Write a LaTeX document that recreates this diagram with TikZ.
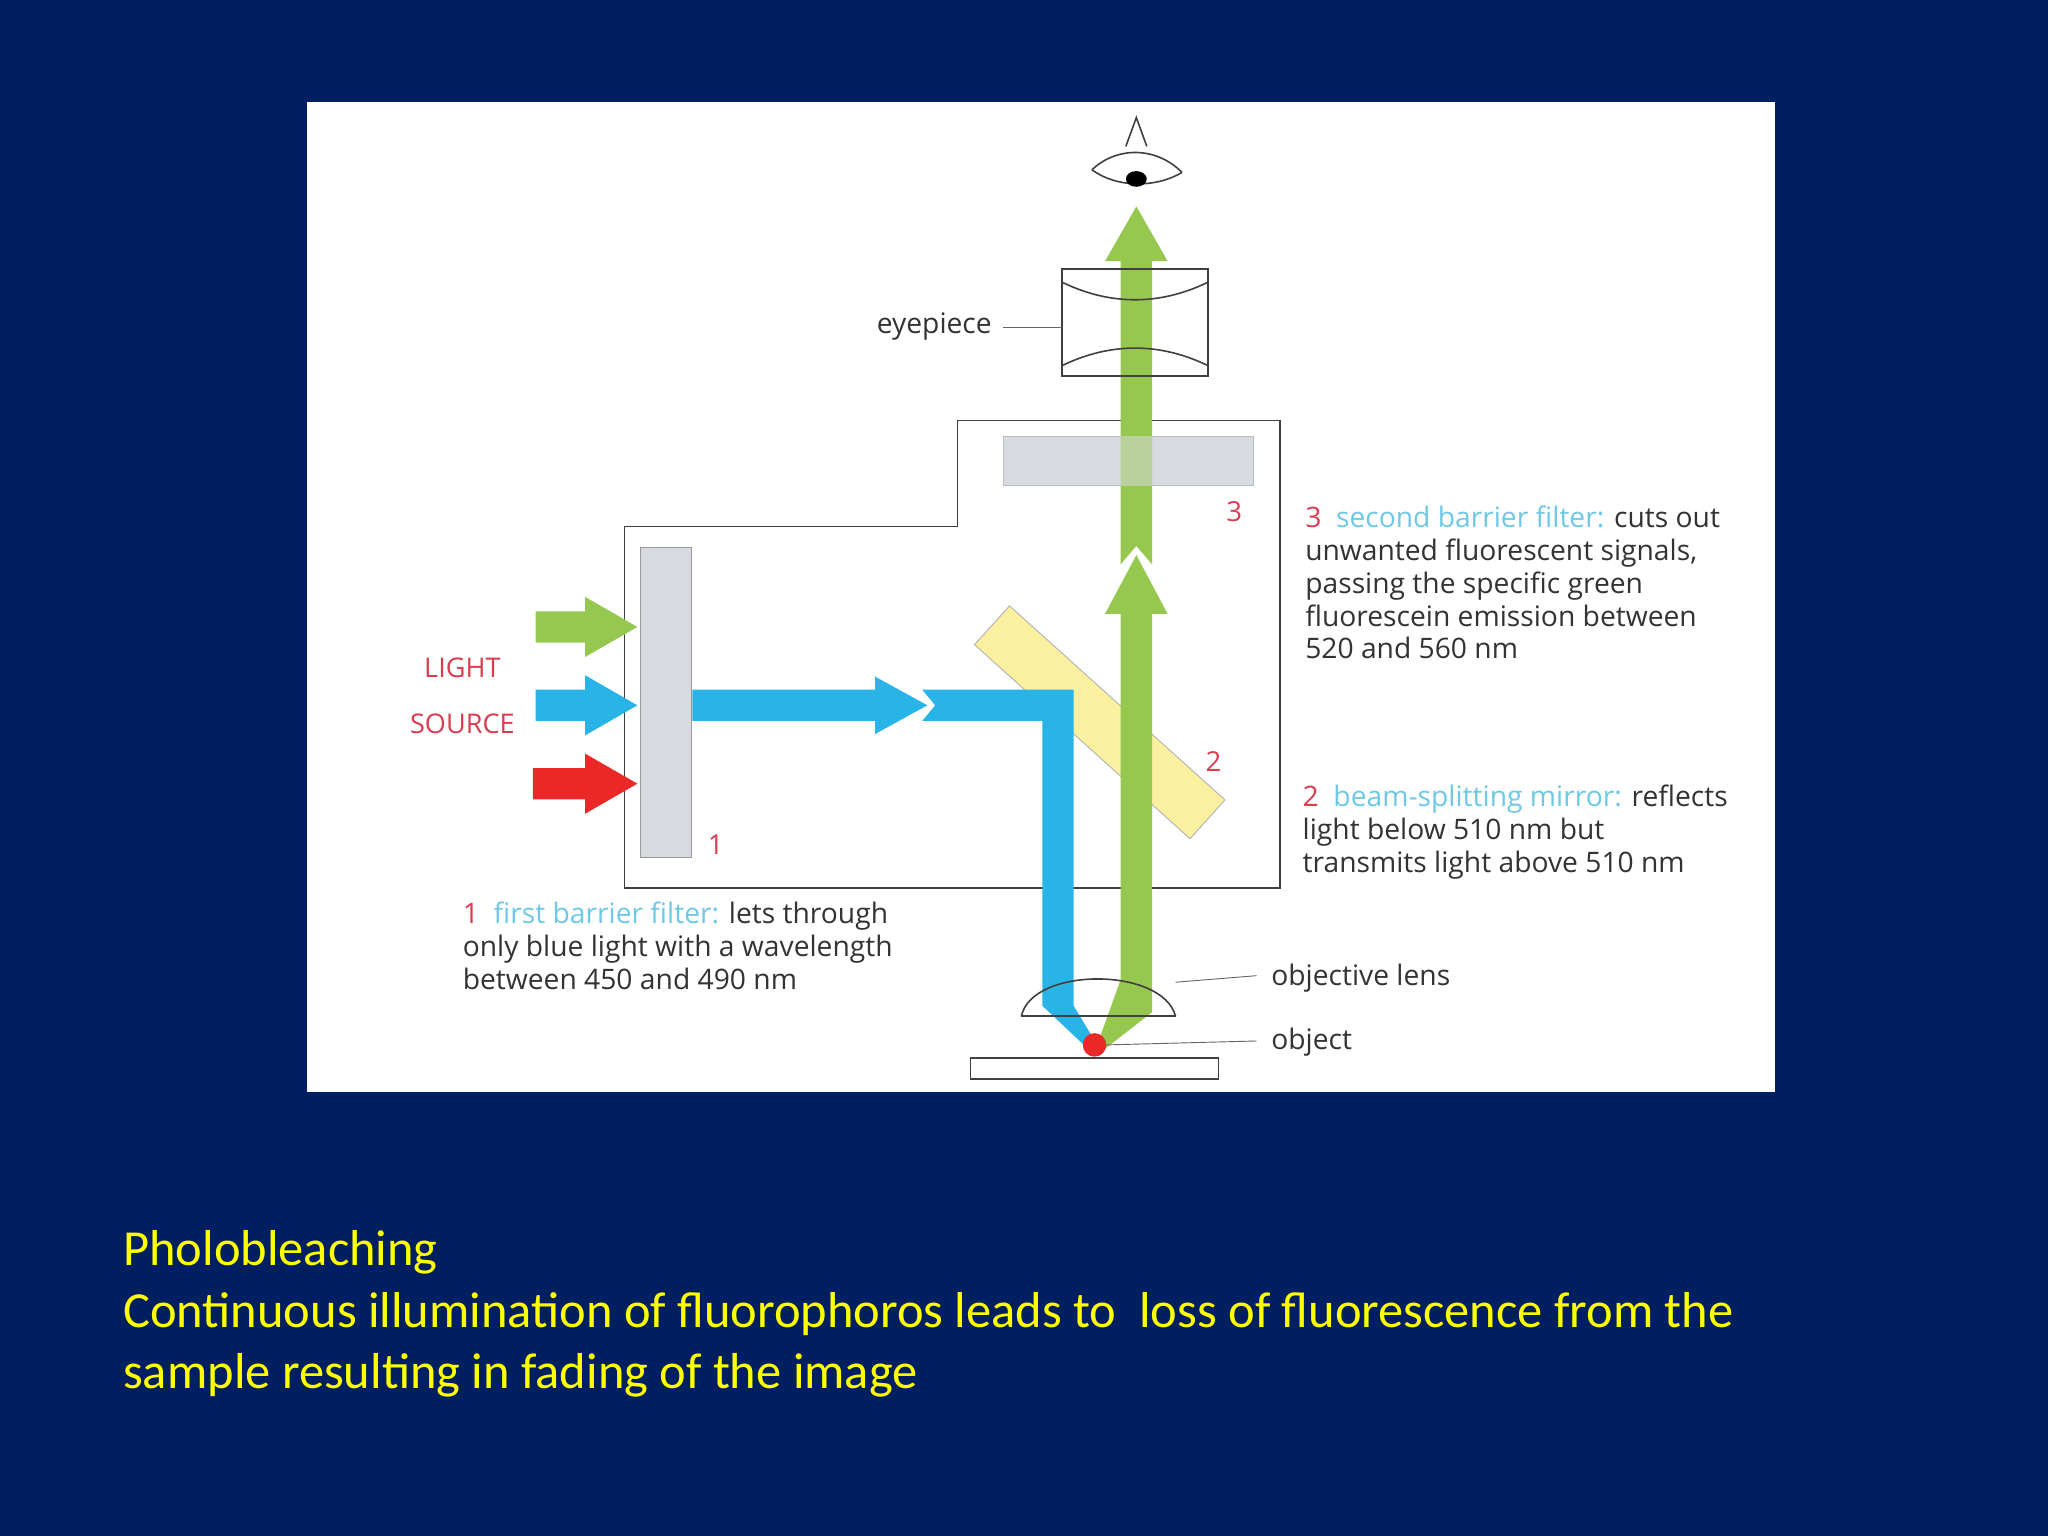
\documentclass[tikz,border=0pt]{standalone}
\usepackage{fontspec}
\setmainfont{Open Sans}
\newfontfamily\calfont{Carlito}
\definecolor{navy}{RGB}{0,31,96}
\definecolor{gbeam}{RGB}{150,200,80}
\definecolor{bbeam}{RGB}{40,180,230}
\definecolor{rbeam}{RGB}{235,40,40}
\definecolor{filt}{RGB}{215,218,222}
\definecolor{mir}{RGB}{250,240,160}
\definecolor{lab}{RGB}{220,60,80}
\definecolor{lblue}{RGB}{110,200,230}
\definecolor{ytext}{RGB}{255,255,0}
\tikzset{lbl/.style={font=\fontsize{12.3}{14.3}\selectfont,text=black!80,align=left,anchor=west,inner sep=0},
 num/.style={font=\fontsize{12}{14}\selectfont,text=lab,inner sep=0},
 fbox/.style={fill=filt,draw=black!40,line width=0.4pt},
 outl/.style={draw=black!75,line width=0.7pt}}
\begin{document}
\begin{tikzpicture}[x=0.02cm,y=-0.02cm]
\fill[navy] (0,0) rectangle (1568,1176);
\fill[white] (235,78) rectangle (1359,836);
% housing
\draw[outl] (733,403) -- (733,322) -- (980,322) -- (980,680) -- (478,680) -- (478,403) -- cycle;
\node[fbox,minimum width=192*0.02cm,minimum height=38*0.02cm,inner sep=0] (f2) at (864,353) {};
\node[fbox,minimum width=39*0.02cm,minimum height=237*0.02cm,inner sep=0] (f1) at (510,538) {};
% mirror
\node[fill=mir,draw=black!30,minimum width=222*0.02cm,minimum height=40*0.02cm,rotate=-42,inner sep=0] (mirror) at (842,553) {};
% incoming arrows
\fill[gbeam] (410,468) -- (448,468) -- (448,457) -- (488,480) -- (448,503) -- (448,492) -- (410,492) -- cycle;
\fill[bbeam] (410,528) -- (448,528) -- (448,517) -- (488,540) -- (448,563) -- (448,552) -- (410,552) -- cycle;
\fill[rbeam] (408,588) -- (448,588) -- (448,577) -- (488,600) -- (448,623) -- (448,612) -- (408,612) -- cycle;
% blue beam
\fill[bbeam] (530,528) -- (670,528) -- (670,518) -- (710,540) -- (670,562) -- (670,552) -- (530,552) -- cycle;
\fill[bbeam] (706,528) -- (822,528) -- (822,770) -- (840,800) -- (833,803) -- (798,770) -- (798,552) -- (706,552) -- (716,540) -- cycle;
% green beam
\fill[gbeam] (840,800) -- (858,750) -- (858,470) -- (846,470) -- (870,425) -- (894,470) -- (882,470) -- (882,775) -- (846,803) -- cycle;
\fill[gbeam] (858,432) -- (858,200) -- (846,200) -- (870,158) -- (894,200) -- (882,200) -- (882,432) -- (870,418) -- cycle;
\fill[filt,opacity=0.55] (768,334) rectangle (960,372);
% eyepiece
\draw[outl] (813,206) rectangle (925,288);
\draw[outl] (813,216) .. controls (850,234) and (888,234) .. (925,216);
\draw[outl] (813,280) .. controls (850,262) and (888,262) .. (925,280);
% eye
\draw[outl] (836,130) .. controls (855,112) and (885,112) .. (905,132);
\draw[outl] (836,130) .. controls (855,144) and (885,144) .. (905,132);
\fill[black] (870,137) ellipse (8 and 6);
\draw[outl] (862,112) -- (870,90) -- (878,112);
% objective, slide, object
\draw[outl] (782,778) -- (900,778);
\draw[outl] (782,778) .. controls (790,740) and (890,740) .. (900,778);
\draw[outl] (743,810) rectangle (933,826);
\node[circle,fill=rbeam,minimum size=18*0.02cm,inner sep=0] (obj) at (838,800) {};
% labels
\node[lbl] (eyel) at (671,250) {eyepiece};
\draw[black!60] (768,251) -- (813,251);
\node[lbl] (objl) at (973,749) {objective lens};
\draw[black!60] (900,752) -- (962,747);
\node[lbl] (objt) at (973,798) {object};
\draw[black!60] (847,800) -- (962,797);
\node[font=\fontsize{11.8}{14}\selectfont,text=lab,inner sep=0] (light) at (354,511) {LIGHT};
\node[font=\fontsize{11.8}{14}\selectfont,text=lab,inner sep=0] (src) at (354,554) {SOURCE};
\node[num] (n1) at (548,647) {1};
\node[num] (n2) at (929,583) {2};
\node[num] (n3) at (945,392) {3};
\node[lbl] (t1) at (354,724) {{\color{lab}1}\ \ {\color{lblue}first barrier filter:} lets through\\only blue light with a wavelength\\between 450 and 490 nm};
\node[lbl] (t3) at (999,446) {{\color{lab}3}\ \ {\color{lblue}second barrier filter:} cuts out\\unwanted fluorescent signals,\\passing the specific green\\fluorescein emission between\\520 and 560 nm};
\node[lbl] (t2) at (997,637) {{\color{lab}2}\ \ {\color{lblue}beam-splitting mirror:} reflects\\light below 510 nm but\\transmits light above 510 nm};
\node[font=\calfont\fontsize{22}{26.8}\selectfont,text=ytext,align=left,anchor=north west,inner sep=0] (cap) at (94,942) {Pholobleaching\\Continuous illumination of fluorophoros leads to\ \ loss of fluorescence from the\\sample resulting in fading of the image};
\end{tikzpicture}
\end{document}
